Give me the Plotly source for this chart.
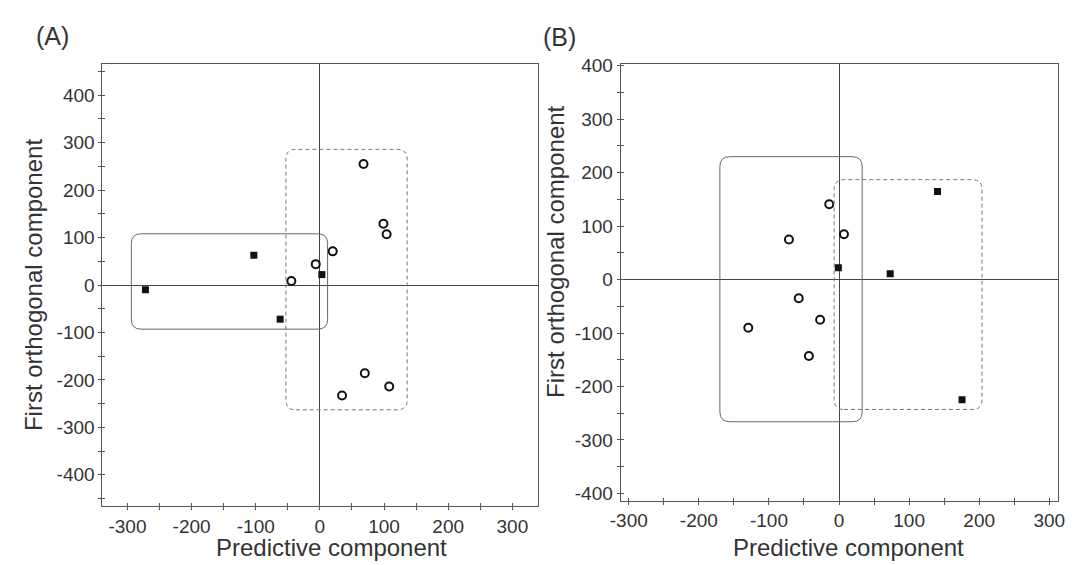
import plotly.graph_objects as go

# ---------------- data ----------------
# Panel (A)
a_square_x = [-272, -103, -62, 3]
a_square_y = [-10, 63, -72, 22]
a_circle_x = [-44.5, -6.5, 20, 68, 99, 104, 70, 108, 34.5]
a_circle_y = [8.5, 44, 71, 255, 129, 107, -186, -214, -233]
a_solid_box = [-294, 12, -93, 108]      # x0, x1, y0, y1
a_dashed_box = [-53, 136, -263, 286]

# Panel (B)
b_circle_x = [-14, 7, -71.5, -57.5, -27, -129.5, -43]
b_circle_y = [141, 85, 75, -35, -75, -90, -143]
b_square_x = [-1, 73, 140.5, 175.5]
b_square_y = [22, 11, 165, -225]
b_solid_box = [-170, 33, -266, 230]
b_dashed_box = [-7, 204, -243, 187]

x_tick_vals = [-300, -200, -100, 0, 100, 200, 300]
x_tick_text = ["-300", "-200", "-100", "0", "100", "200", "300"]
y_tick_vals = [-400, -300, -200, -100, 0, 100, 200, 300, 400]
y_tick_text = ["-400", "-300", "-200", "-100", "0", "100", "200", "300", "400"]

x_title = "Predictive component"
y_title = "First orthogonal component"
panel_labels = ["(A)", "(B)"]

# ---------------- layout geometry ----------------
W, H = 1077, 565


def px(xp):
    return xp / W


def py(yp):
    return 1 - yp / H


A_dom_x = [px(93), px(536.3)]
A_dom_y = [py(508), py(57.3)]
B_dom_x = [px(620), px(1065.3)]
B_dom_y = [py(502.3), py(56.7)]
A_rng_x = [-339, 340.5]
A_rng_y = [-466, 465.5]
B_rng_x = [-311.6, 313.1]
B_rng_y = [-413.4, 404.2]

FONT = "Liberation Sans, Arial, sans-serif"
TXT = "#333333"
LINE = "#555555"

fig = go.Figure()

sq_marker = dict(symbol="square", size=7, color="#111111", line=dict(width=0))
ci_marker = dict(symbol="circle-open", size=8, color="#111111", line=dict(width=2, color="#111111"))

fig.add_trace(go.Scatter(x=a_square_x, y=a_square_y, mode="markers", marker=sq_marker, xaxis="x", yaxis="y"))
fig.add_trace(go.Scatter(x=a_circle_x, y=a_circle_y, mode="markers", marker=ci_marker, xaxis="x", yaxis="y"))
fig.add_trace(go.Scatter(x=b_square_x, y=b_square_y, mode="markers", marker=sq_marker, xaxis="x2", yaxis="y2"))
fig.add_trace(go.Scatter(x=b_circle_x, y=b_circle_y, mode="markers", marker=ci_marker, xaxis="x2", yaxis="y2"))
# empty traces to activate overlay axes carrying the inner half of the tick marks
fig.add_trace(go.Scatter(x=[], y=[], xaxis="x3", yaxis="y3", hoverinfo="skip"))
fig.add_trace(go.Scatter(x=[], y=[], xaxis="x4", yaxis="y4", hoverinfo="skip"))


def rounded_path(box, rng_x, rng_y, dom_x, dom_y, r_px=10):
    x0, x1, y0, y1 = box
    ppx = (dom_x[1] - dom_x[0]) * W / (rng_x[1] - rng_x[0])
    ppy = (dom_y[1] - dom_y[0]) * H / (rng_y[1] - rng_y[0])
    rx, ry = r_px / ppx, r_px / ppy
    return (f"M {x0+rx},{y0} L {x1-rx},{y0} Q {x1},{y0} {x1},{y0+ry} "
            f"L {x1},{y1-ry} Q {x1},{y1} {x1-rx},{y1} L {x0+rx},{y1} "
            f"Q {x0},{y1} {x0},{y1-ry} L {x0},{y0+ry} Q {x0},{y0} {x0+rx},{y0} Z")


shapes = [
    dict(type="path", xref="x", yref="y",
         path=rounded_path(a_solid_box, A_rng_x, A_rng_y, A_dom_x, A_dom_y),
         line=dict(color="#666666", width=1)),
    dict(type="path", xref="x", yref="y",
         path=rounded_path(a_dashed_box, A_rng_x, A_rng_y, A_dom_x, A_dom_y),
         line=dict(color="#777777", width=1, dash="4px,3px")),
    dict(type="path", xref="x2", yref="y2",
         path=rounded_path(b_solid_box, B_rng_x, B_rng_y, B_dom_x, B_dom_y),
         line=dict(color="#666666", width=1)),
    dict(type="path", xref="x2", yref="y2",
         path=rounded_path(b_dashed_box, B_rng_x, B_rng_y, B_dom_x, B_dom_y),
         line=dict(color="#777777", width=1, dash="4px,3px")),
]


def main_axis(dom, rng, vals, text, anchor):
    return dict(domain=dom, range=rng, anchor=anchor, tickmode="array",
                tickvals=vals, ticktext=text, showline=True, linecolor=LINE,
                linewidth=1, mirror=True, ticks="outside", ticklen=3,
                tickcolor=LINE, tickwidth=1,
                tickfont=dict(family=FONT, size=19, color=TXT),
                showgrid=False, zeroline=True, zerolinecolor="#444444",
                zerolinewidth=1,
                minor=dict(tickmode="linear", tick0=0, dtick=50,
                           ticks="outside", ticklen=3, tickcolor=LINE,
                           tickwidth=1, showgrid=False))


def inner_axis(over, rng, anchor):
    return dict(overlaying=over, range=rng, anchor=anchor, tickmode="linear",
                tick0=0, dtick=50, ticks="inside", ticklen=3, tickcolor=LINE,
                tickwidth=1, showticklabels=False, showline=False,
                showgrid=False, zeroline=False)


def ann(text, xp, yp, size, angle=0):
    return dict(text=text, x=px(xp), y=py(yp), xref="paper", yref="paper",
                showarrow=False, xanchor="center", yanchor="middle",
                textangle=angle, font=dict(family=FONT, size=size, color=TXT))


annotations = [
    ann(x_title, 326, 550, 24),
    ann(x_title, 852, 550.5, 24),
    ann(y_title, 23, 283, 24, -90),
    ann(y_title, 553, 249, 24, -90),
    ann(panel_labels[0], 42.5, 28.5, 25),
    ann(panel_labels[1], 557.5, 30, 25),
]

fig.update_layout(
    width=W, height=H, margin=dict(l=0, r=0, t=0, b=0),
    paper_bgcolor="white", plot_bgcolor="white", showlegend=False,
    hovermode=False,
    xaxis=main_axis(A_dom_x, A_rng_x, x_tick_vals, x_tick_text, "y"),
    yaxis=main_axis(A_dom_y, A_rng_y, y_tick_vals, y_tick_text, "x"),
    xaxis2=main_axis(B_dom_x, B_rng_x, x_tick_vals, x_tick_text, "y2"),
    yaxis2=main_axis(B_dom_y, B_rng_y, y_tick_vals, y_tick_text, "x2"),
    xaxis3=inner_axis("x", A_rng_x, "y"),
    yaxis3=inner_axis("y", A_rng_y, "x"),
    xaxis4=inner_axis("x2", B_rng_x, "y2"),
    yaxis4=inner_axis("y2", B_rng_y, "x2"),
    shapes=shapes,
    annotations=annotations,
)

fig.write_html(
    "out.html",
    config={"displayModeBar": False},
    post_script="document.body.style.margin='0';document.body.style.overflow='hidden';",
)
